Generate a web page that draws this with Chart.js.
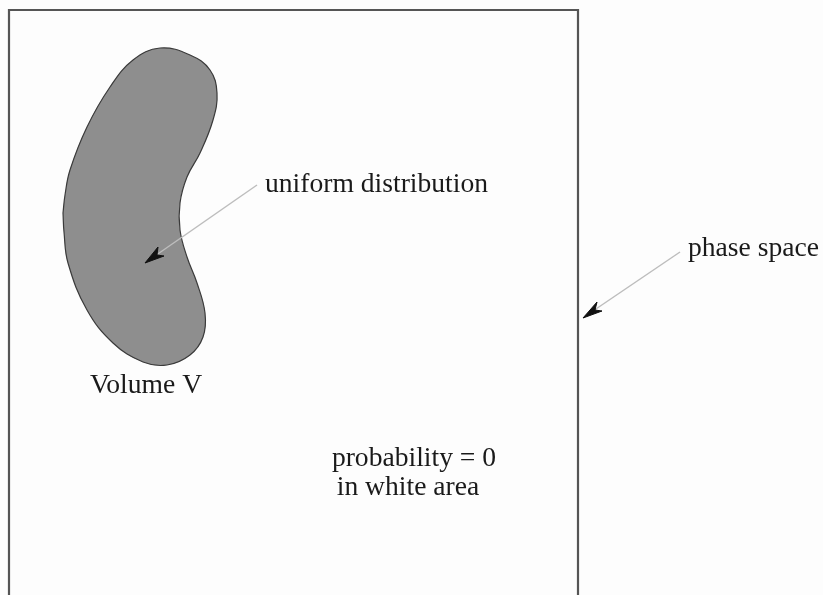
<!DOCTYPE html>
<html>
<head>
<meta charset="utf-8">
<script src="https://cdn.jsdelivr.net/npm/chart.js@4"></script>
<style>
  body { margin: 0; background: #fdfdfd; }
  #wrap { width: 823px; height: 595px; }
</style>
</head>
<body>
<div id="wrap"><canvas id="phase-canvas"></canvas></div>
<script>
'use strict';

// Outline of the region "Volume V" (clockwise, starting on the left side)
const blobX = [63, 65, 70, 87, 110, 133, 160, 190, 210, 217, 213, 200, 187, 180, 180, 187, 197, 205, 203, 190, 167, 143, 113, 87, 68, 64, 63];
const blobY = [213, 195, 170, 127, 87, 60, 48, 55, 70, 93, 120, 153, 177, 203, 230, 257, 283, 313, 337, 355, 365, 362, 343, 310, 263, 232, 213];

// Phase space border (open at the bottom)
const boxX = [9, 9, 578, 578];
const boxY = [600, 10, 10, 600];

// Arrow shafts
const arrow1X = [257, 152];
const arrow1Y = [185, 258];
const arrow2X = [680, 590];
const arrow2Y = [252, 313];

// Arrow heads (tip, side, notch, side)
const head1X = [145, 164, 157, 158];
const head1Y = [263, 256, 255, 247];
const head2X = [583, 602, 595, 597];
const head2Y = [318, 311, 310, 302];

// Labels
const labels = ['uniform distribution', 'phase space', 'Volume V', 'probability = 0', 'in white area'];

function pts(xs, ys) {
    let out = [];
    for (let i = 0; i < xs.length; i++)
        out.push({x: xs[i], y: ys[i]});
    return out;
}

const labelPos = [
    {x: 265, y: 192, align: 'left'},
    {x: 688, y: 256, align: 'left'},
    {x: 146, y: 393, align: 'center'},
    {x: 414, y: 466, align: 'center'},
    {x: 408, y: 495, align: 'center'}
];

const textPlugin = {
    id: 'labels',
    afterDatasetsDraw(chart) {
        const ctx = chart.ctx,
            sx = chart.scales.x,
            sy = chart.scales.y;
        ctx.save();
        ctx.fillStyle = '#1a1a1a';
        ctx.font = '27.6px "Liberation Serif", "DejaVu Serif", serif';
        ctx.textBaseline = 'alphabetic';
        for (let i = 0; i < labels.length; i++) {
            ctx.textAlign = labelPos[i].align;
            ctx.fillText(labels[i], sx.getPixelForValue(labelPos[i].x), sy.getPixelForValue(labelPos[i].y));
        }
        ctx.restore();
    }
};

const bgPlugin = {
    id: 'bg',
    beforeDraw(chart) {
        const ctx = chart.ctx;
        ctx.save();
        ctx.fillStyle = '#fdfdfd';
        ctx.fillRect(0, 0, chart.width, chart.height);
        ctx.restore();
    }
};

new Chart(document.getElementById('phase-canvas'), {
    type: 'scatter',
    data: {
        datasets: [
            {
                data: pts(blobX, blobY),
                showLine: true,
                tension: 0.4,
                borderColor: '#3a3a3a',
                borderWidth: 1.2,
                backgroundColor: '#8e8e8e',
                fill: 'shape',
                pointRadius: 0,
                order: 10
            },
            {
                data: pts(boxX, boxY),
                showLine: true,
                borderColor: '#555555',
                borderWidth: 2.2,
                fill: false,
                pointRadius: 0,
                order: 9
            },
            {
                data: pts(arrow1X, arrow1Y),
                showLine: true,
                borderColor: '#bdbdbd',
                borderWidth: 1.5,
                pointRadius: 0,
                order: 5
            },
            {
                data: pts(arrow2X, arrow2Y),
                showLine: true,
                borderColor: '#bdbdbd',
                borderWidth: 1.5,
                pointRadius: 0,
                order: 5
            },
            {
                data: pts(head1X.concat(head1X[0]), head1Y.concat(head1Y[0])),
                showLine: true,
                borderColor: '#111111',
                borderWidth: 1,
                backgroundColor: '#111111',
                fill: 'shape',
                pointRadius: 0,
                order: 1
            },
            {
                data: pts(head2X.concat(head2X[0]), head2Y.concat(head2Y[0])),
                showLine: true,
                borderColor: '#111111',
                borderWidth: 1,
                backgroundColor: '#111111',
                fill: 'shape',
                pointRadius: 0,
                order: 1
            }
        ]
    },
    options: {
        responsive: true,
        maintainAspectRatio: false,
        animation: false,
        layout: {padding: 0},
        scales: {
            x: {type: 'linear', min: 0, max: 823, display: false},
            y: {type: 'linear', min: 0, max: 595, reverse: true, display: false}
        },
        plugins: {
            legend: {display: false},
            tooltip: {enabled: false}
        },
        clip: false
    },
    plugins: [bgPlugin, textPlugin]
});
</script>
</body>
</html>
